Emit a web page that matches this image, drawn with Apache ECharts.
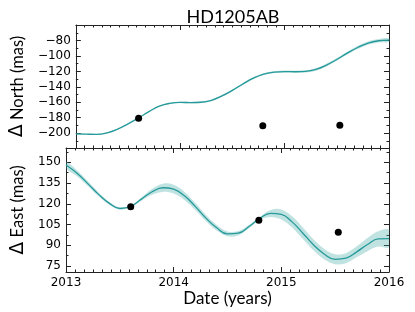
<!DOCTYPE html>
<html>
<head>
<meta charset="utf-8">
<script src="https://cdn.jsdelivr.net/npm/echarts@6/dist/echarts.min.js"></script>
<style>
html,body{margin:0;padding:0;background:#fff;}
#c{width:415px;height:312px;}
</style>
</head>
<body>
<div id="c"></div>
<script>
// ---- data ----
const years = [2013.0,2013.1,2013.2,2013.3,2013.4,2013.5,2013.6,2013.7,2013.8,2013.9,
  2014.0,2014.1,2014.2,2014.3,2014.4,2014.5,2014.6,2014.7,2014.8,2014.9,
  2015.0,2015.1,2015.2,2015.3,2015.4,2015.5,2015.6,2015.7,2015.8,2015.9,2016.0];
const northModel = [-200.9,-201.3,-201.6,-199.6,-194.8,-188.0,-180.4,-172.2,-165.0,-161.4,
  -160.2,-160.4,-160.0,-157.4,-151.8,-144.5,-136.3,-128.8,-123.5,-121.0,
  -120.2,-120.4,-120.0,-117.4,-111.8,-104.5,-96.3,-89.0,-83.2,-80.2,-79.4];
const northErr = [0.6,0.6,0.6,0.6,0.5,0.5,0.4,0.5,0.6,0.7,
  0.8,0.9,1.0,1.0,1.1,1.2,1.3,1.3,1.2,1.2,
  1.3,1.4,1.5,1.6,1.7,1.8,1.9,2.0,2.1,2.2,2.3];
const eastModel = [148.1,142.3,134.8,127.0,120.5,116.6,118.1,123.4,128.7,131.6,
  130.6,125.8,118.1,109.6,102.6,98.2,98.7,103.5,109.4,113.0,
  112.3,106.9,98.7,90.2,83.5,79.8,80.6,85.2,90.5,94.6,94.8];
const eastErr = [2.5,2.2,1.8,1.4,1.0,0.8,0.6,1.2,2.2,3.0,
  3.2,3.0,2.6,2.2,2.0,1.8,1.6,1.2,1.0,2.5,
  3.6,4.0,4.2,4.0,3.8,3.6,3.6,4.0,4.8,5.6,6.2];
const obsDates = [2013.601, 2014.791, 2015.529];
const obsNorth = [-180.6, -190.5, -189.7];
const obsEast = [117.8, 108.1, 99.4];
const yearTicks = [2013, 2014, 2015, 2016];
const northTicks = [-200, -180, -160, -140, -120, -100, -80];
const eastTicks = [75, 90, 105, 120, 135, 150];
const northRange = [-219.3, -59.8];
const eastRange = [70.6, 160.4];

// ---- helpers ----
function minorOf(ticks, lo, hi) {
  const step = ticks[1] - ticks[0];
  const out = [];
  for (let i = -1; i < ticks.length; i++) {
    const v = (i < 0 ? ticks[0] - step : ticks[i]) + step / 2;
    if (v > lo && v < hi) out.push(v);
  }
  return out;
}
const fmt = v => (v < 0 ? '\u2212' + Math.abs(v) : String(v));
const LINE = '#26999a';
const BAND = 'rgba(70,172,166,0.34)';
const AX = '#222';
const tickFont = {fontFamily: 'DejaVu Sans', fontSize: 12, color: '#000'};
const nameFont = {fontFamily: 'Lato', fontSize: 16.5, color: '#000',
  rich: {d: {fontFamily: 'DejaVu Sans', fontSize: 19, color: '#000'}}};

function xAx(grid, pos, labels) {
  const a = {
    type: 'value', gridIndex: grid, position: pos, min: 2013, max: 2016, interval: 1,
    axisLine: {show: true, onZero: false, lineStyle: {color: AX, width: 1}},
    axisTick: {show: true, inside: true, length: 5, lineStyle: {color: AX, width: 1}},
    minorTick: {show: true, splitNumber: 12, length: 2.5, lineStyle: {color: AX, width: 1}},
    splitLine: {show: false},
    axisLabel: Object.assign({show: labels, margin: 5, customValues: yearTicks, formatter: v => String(v)}, tickFont)
  };
  if (labels) {
    a.name = 'Date (years)';
    a.nameLocation = 'middle';
    a.nameGap = 15;
    a.nameTextStyle = {fontFamily: 'Lato', fontSize: 17, color: '#000'};
  }
  return a;
}
function yAx(grid, pos, range, ticks, len, major, name, gap) {
  const a = {
    type: 'value', gridIndex: grid, position: pos, min: range[0], max: range[1],
    axisLine: {show: major, onZero: false, lineStyle: {color: AX, width: 1}},
    axisTick: {show: true, inside: true, length: len, customValues: ticks, lineStyle: {color: AX, width: 1}},
    splitLine: {show: false},
    axisLabel: Object.assign({show: !!name, margin: 5, customValues: ticks, formatter: fmt}, tickFont)
  };
  if (name) {
    a.name = name;
    a.nameLocation = 'middle';
    a.nameRotate = 90;
    a.nameGap = gap;
    a.nameTextStyle = nameFont;
  }
  return a;
}
function band(xi, yi, model, err) {
  return {
    type: 'custom', xAxisIndex: xi, yAxisIndex: yi, clip: true, silent: true, z: 1,
    data: [[years[0], model[0]]],
    renderItem: function (params, api) {
      const pts = [];
      for (let i = 0; i < years.length; i++) pts.push(api.coord([years[i], model[i] + err[i]]));
      for (let i = years.length - 1; i >= 0; i--) pts.push(api.coord([years[i], model[i] - err[i]]));
      return {type: 'polygon', shape: {points: pts, smooth: 0.35}, style: {fill: BAND, stroke: null}};
    }
  };
}
function line(xi, yi, model) {
  return {
    type: 'line', xAxisIndex: xi, yAxisIndex: yi, z: 3, smooth: 0.45, showSymbol: false, silent: true,
    lineStyle: {color: LINE, width: 1.3},
    data: years.map((t, i) => [t, model[i]])
  };
}
function dots(xi, yi, vals) {
  return {
    type: 'scatter', xAxisIndex: xi, yAxisIndex: yi, z: 5, symbolSize: 7, silent: true,
    itemStyle: {color: '#000', opacity: 1},
    data: obsDates.map((t, i) => [t, vals[i]])
  };
}

const chart = echarts.init(document.getElementById('c'), null, {renderer: 'canvas'});
chart.setOption({
  animation: false,
  backgroundColor: '#fff',
  title: {
    text: 'HD1205AB', left: 228, top: 3, textAlign: 'center',
    textStyle: {fontFamily: 'Lato', fontSize: 18, fontWeight: 'normal', color: '#000'}
  },
  grid: [
    {left: 66, top: 25, width: 323, height: 123},
    {left: 66, top: 148, width: 323, height: 124}
  ],
  xAxis: [
    xAx(0, 'bottom', false), xAx(0, 'top', false),
    xAx(1, 'bottom', true), xAx(1, 'top', false)
  ],
  yAxis: [
    yAx(0, 'left', northRange, northTicks, 5, true, '{d|\u0394} North (mas)', 38),
    yAx(0, 'left', northRange, minorOf(northTicks, northRange[0], northRange[1]), 2.5, false),
    yAx(0, 'right', northRange, northTicks, 5, true),
    yAx(0, 'right', northRange, minorOf(northTicks, northRange[0], northRange[1]), 2.5, false),
    yAx(1, 'left', eastRange, eastTicks, 5, true, '{d|\u0394} East (mas)', 30),
    yAx(1, 'left', eastRange, minorOf(eastTicks, eastRange[0], eastRange[1]), 2.5, false),
    yAx(1, 'right', eastRange, eastTicks, 5, true),
    yAx(1, 'right', eastRange, minorOf(eastTicks, eastRange[0], eastRange[1]), 2.5, false)
  ],
  series: [
    band(0, 0, northModel, northErr), line(0, 0, northModel), dots(0, 0, obsNorth),
    band(2, 4, eastModel, eastErr), line(2, 4, eastModel), dots(2, 4, obsEast)
  ]
});
</script>
</body>
</html>
